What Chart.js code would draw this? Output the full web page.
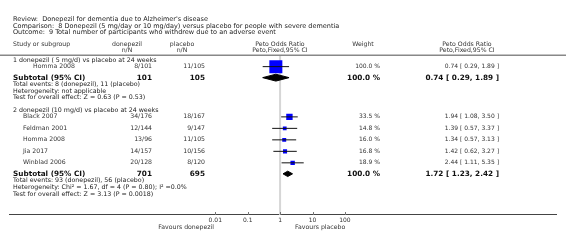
<!DOCTYPE html>
<html>
<head>
<meta charset="utf-8">
<script src="https://cdn.jsdelivr.net/npm/chart.js@4"></script>
<style>
  html, body { margin: 0; padding: 0; background: #fff; }
  canvas { display: block; }
</style>
</head>
<body>
<canvas id="forest" width="566" height="245"></canvas>
<script>
// --- data ---
const titleLines = [
    "Review:  Donepezil for dementia due to Alzheimer's disease",
    "Comparison:  8 Donepezil (5 mg/day or 10 mg/day) versus placebo for people with severe dementia",
    "Outcome:  9 Total number of participants who withdrew due to an adverse event",
];
const groupTitles = [
    "1 donepezil ( 5 mg/d) vs placebo at 24 weeks",
    "2 donepezil (10 mg/d) vs placebo at 24 weeks",
];
const studyNames  = ["Homma 2008", "Black 2007", "Feldman 2001", "Homma 2008", "Jia 2017", "Winblad 2006"];
const studyGroup  = [0, 1, 1, 1, 1, 1];
const donepezilNN = ["8/101", "34/176", "12/144", "13/96", "14/157", "20/128"];
const placeboNN   = ["11/105", "18/167", "9/147", "11/105", "10/156", "8/120"];
const studyOR     = [0.74, 1.94, 1.39, 1.34, 1.42, 2.44];
const studyLo     = [0.29, 1.08, 0.57, 0.57, 0.62, 1.11];
const studyHi     = [1.89, 3.50, 3.37, 3.13, 3.27, 5.35];
const studyWeight = [100.0, 33.5, 14.8, 16.0, 16.8, 18.9];

const subDonepezil = [101, 701];
const subPlacebo   = [105, 695];
const subOR        = [0.74, 1.72];
const subLo        = [0.29, 1.23];
const subHi        = [1.89, 2.42];
const subWeight    = [100.0, 100.0];
const groupNotes = [
    ["Total events: 8 (donepezil), 11 (placebo)",
     "Heterogeneity: not applicable",
     "Test for overall effect: Z = 0.63 (P = 0.53)"],
    ["Total events: 93 (donepezil), 56 (placebo)",
     "Heterogeneity: Chi² = 1.67, df = 4 (P = 0.80); I² =0.0%",
     "Test for overall effect: Z = 3.13 (P = 0.0018)"],
];
const tickValues = [0.01, 0.1, 1, 10, 100];
const favoursLeft  = "Favours donepezil";
const favoursRight = "Favours placebo";

// --- layout (pixels) ---
const W = 566, AXIS_Y = 215;
const X_MIN_TICK = 213, X_MAX_TICK = 347;           // where 0.01 and 100 sit
const decade = (X_MAX_TICK - X_MIN_TICK) / 4;
const xMin = Math.pow(10, -2 - X_MIN_TICK / decade);
const xMax = Math.pow(10, 2 + (W - X_MAX_TICK) / decade);
const FONT = '"DejaVu Sans", Verdana, sans-serif';
const diamondHalf = [3.6, 2.8];

// row positions, walked down the table
const studyY = [], subY = [], groupY = [], noteY = [];
let cur = 53;
groupTitles.forEach((g, gi) => {
    groupY.push(cur);
    const idx = studyNames.map((_, i) => i).filter(i => studyGroup[i] === gi);
    idx.forEach((i, k) => { cur += (k === 0 ? 7 : 12); studyY[i] = cur; });
    cur += 11.5; subY.push(cur);
    noteY.push([cur + 7, cur + 14, cur + 21]);
    cur += 21 + 13;
});

const fmt = v => v.toFixed(2);
const ciText = i => `${fmt(studyOR[i])} [ ${fmt(studyLo[i])}, ${fmt(studyHi[i])} ]`;
const subCiText = g => `${fmt(subOR[g])} [ ${fmt(subLo[g])}, ${fmt(subHi[g])} ]`;

// square side grows with weight
const squareRadius = w => 13 * Math.pow(w / 100, 0.65) / Math.SQRT2;

const datasets = [];
// line of no effect
datasets.push({
    type: "line", data: [{ x: 1, y: 48 }, { x: 1, y: AXIS_Y }],
    borderColor: "#d6d6d6", borderWidth: 2, pointRadius: 0, order: 10,
});
// squares
datasets.push({
    type: "scatter",
    data: studyNames.map((_, i) => ({ x: studyOR[i], y: studyY[i] })),
    pointStyle: "rect",
    pointRadius: studyWeight.map(squareRadius),
    backgroundColor: "#0000ff", borderColor: "#0000ff", borderWidth: 0,
    order: 5,
});
// confidence intervals
studyNames.forEach((_, i) => {
    datasets.push({
        type: "line",
        data: [{ x: studyLo[i], y: studyY[i] }, { x: studyHi[i], y: studyY[i] }],
        borderColor: "#111", borderWidth: 1, pointRadius: 0, order: 1,
    });
});
// subtotal diamonds
subOR.forEach((or, g) => {
    const y = subY[g], h = diamondHalf[g];
    datasets.push({
        type: "line",
        data: [{ x: subLo[g], y }, { x: or, y: y - h }, { x: subHi[g], y },
               { x: or, y: y + h }, { x: subLo[g], y }],
        borderColor: "#000", backgroundColor: "#000", borderWidth: 1,
        fill: "shape", pointRadius: 0, tension: 0, order: 1,
    });
});

const tablePlugin = {
    id: "table",
    afterDraw(chart) {
        const ctx = chart.ctx;
        const yS = chart.scales.y;
        const put = (s, x, y, align, size, bold, color) => {
            ctx.font = `${bold ? "bold " : ""}${size}px ${FONT}`;
            ctx.fillStyle = color || "#333";
            ctx.textAlign = align;
            ctx.textBaseline = "middle";
            ctx.fillText(s, x, yS.getPixelForValue(y));
        };
        ctx.save();
        titleLines.forEach((t, k) => put(t, 13, 10.5 + 7 * k, "left", 6.5, false, "#222"));

        put("Study or subgroup", 13, 36.5, "left", 6.2);
        put("donepezil", 127, 36.5, "center", 6.2);
        put("n/N", 127, 43, "center", 6.2);
        put("placebo", 182, 36.5, "center", 6.2);
        put("n/N", 182, 43, "center", 6.2);
        put("Peto Odds Ratio", 280, 36.5, "center", 6.2);
        put("Peto,Fixed,95% CI", 280, 43, "center", 6.2);
        put("Weight", 363, 36.5, "center", 6.2);
        put("Peto Odds Ratio", 467, 36.5, "center", 6.2);
        put("Peto,Fixed,95% CI", 467, 43, "center", 6.2);

        ctx.strokeStyle = "#888";
        ctx.lineWidth = 1.5;
        ctx.beginPath();
        ctx.moveTo(0, yS.getPixelForValue(48));
        ctx.lineTo(W, yS.getPixelForValue(48));
        ctx.stroke();

        groupTitles.forEach((g, gi) => {
            put(g, 13, groupY[gi], "left", 6.3, false, "#222");
            studyNames.forEach((n, i) => {
                if (studyGroup[i] !== gi) return;
                put(n, gi === 0 ? 33 : 23, studyY[i], "left", 6.2);
                put(donepezilNN[i], 152, studyY[i], "right", 6.2);
                put(placeboNN[i], 205, studyY[i], "right", 6.2);
                put(studyWeight[i].toFixed(1) + " %", 380, studyY[i], "right", 6);
                put(ciText(i), 499, studyY[i], "right", 6);
            });
            put("Subtotal (95% CI)", 13, subY[gi], "left", 7.3, true, "#111");
            put(String(subDonepezil[gi]), 152, subY[gi], "right", 7.3, true, "#111");
            put(String(subPlacebo[gi]), 205, subY[gi], "right", 7.3, true, "#111");
            put(subWeight[gi].toFixed(1) + " %", 380, subY[gi], "right", 7.3, true, "#111");
            put(subCiText(gi), 499, subY[gi], "right", 7.3, true, "#111");
            groupNotes[gi].forEach((t, k) => put(t, 13, noteY[gi][k], "left", 6.3, false, "#222"));
        });

        // small upward tick marks on the axis
        const xS = chart.scales.x;
        ctx.strokeStyle = "#777";
        ctx.lineWidth = 1;
        xS.ticks.forEach((t, k) => {
            const px = Math.round(xS.getPixelForTick(k)) + 0.5;
            ctx.beginPath();
            ctx.moveTo(px, AXIS_Y);
            ctx.lineTo(px, AXIS_Y - 3);
            ctx.stroke();
        });

        ctx.font = `6.2px ${FONT}`;
        ctx.fillStyle = "#333";
        ctx.textBaseline = "middle";
        ctx.textAlign = "right";
        ctx.fillText(favoursLeft, 214, 227);
        ctx.textAlign = "left";
        ctx.fillText(favoursRight, 295, 227);
        ctx.restore();
    },
};

new Chart(document.getElementById("forest"), {
    type: "scatter",
    data: { datasets },
    options: {
        responsive: false,
        animation: false,
        layout: { padding: 0 },
        plugins: { legend: { display: false }, tooltip: { enabled: false } },
        scales: {
            x: {
                type: "logarithmic",
                min: xMin, max: xMax,
                afterBuildTicks: s => { s.ticks = tickValues.map(v => ({ value: v })); },
                afterFit: s => { s.height = 245 - AXIS_Y; },
                grid: { display: true, drawOnChartArea: false, drawTicks: false },
                border: { display: true, color: "#444", width: 1 },
                ticks: {
                    autoSkip: false, maxRotation: 0, padding: 2,
                    font: { family: FONT, size: 6 }, color: "#333",
                    callback: v => String(v),
                },
            },
            y: {
                type: "linear", min: 0, max: AXIS_Y, reverse: true, display: false,
            },
        },
    },
    plugins: [tablePlugin],
});
</script>
</body>
</html>
